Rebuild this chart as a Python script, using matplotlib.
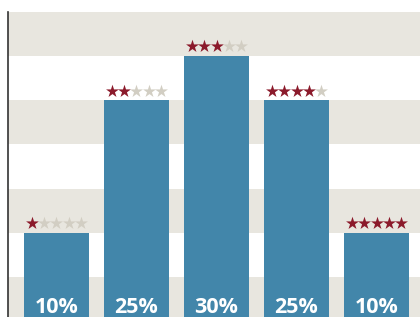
import matplotlib
matplotlib.use("Agg")
import matplotlib.pyplot as plt
import numpy as np

categories = ["1 star", "2 stars", "3 stars", "4 stars", "5 stars"]
shares = [10, 25, 30, 25, 10]
ratings = [1, 2, 3, 4, 5]
labels = ["10%", "25%", "30%", "25%", "10%"]

BLUE = "#4286aa"
BAND = "#e8e6df"
RED = "#8b1a2b"
EMPTY = "#d2cec3"

fig = plt.figure(figsize=(4.2, 3.17), dpi=100)
ax = fig.add_axes([8/420, -4/317, 417/420, 309/317])
ax.set_xlim(-0.606, 4.606)
ax.set_ylim(0, 35)

for lo in range(0, 35, 10):
    ax.axhspan(lo, lo + 5, color=BAND, lw=0, zorder=0)

x = np.arange(len(categories))
ax.bar(x, shares, width=0.8125, color=BLUE, zorder=2)

for xi, v, lab in zip(x, shares, labels):
    ax.text(xi, 0.9, lab, ha="center", va="baseline", color="white",
            fontsize=15.5, fontweight="bold", family="Open Sans", zorder=3)

step = 0.156
for xi, v, r in zip(x, shares, ratings):
    for k in range(5):
        c = RED if k < r else EMPTY
        ax.scatter(xi + (k - 2) * step, v + 1.1, marker="*", s=95,
                   color=c, linewidths=0, zorder=3, clip_on=False)

for s in ["top", "right", "bottom"]:
    ax.spines[s].set_visible(False)
ax.spines["left"].set_color("#333333")
ax.spines["left"].set_linewidth(1.2)
ax.set_xticks([])
ax.set_yticks([])

fig.savefig("out.png", dpi=100)
